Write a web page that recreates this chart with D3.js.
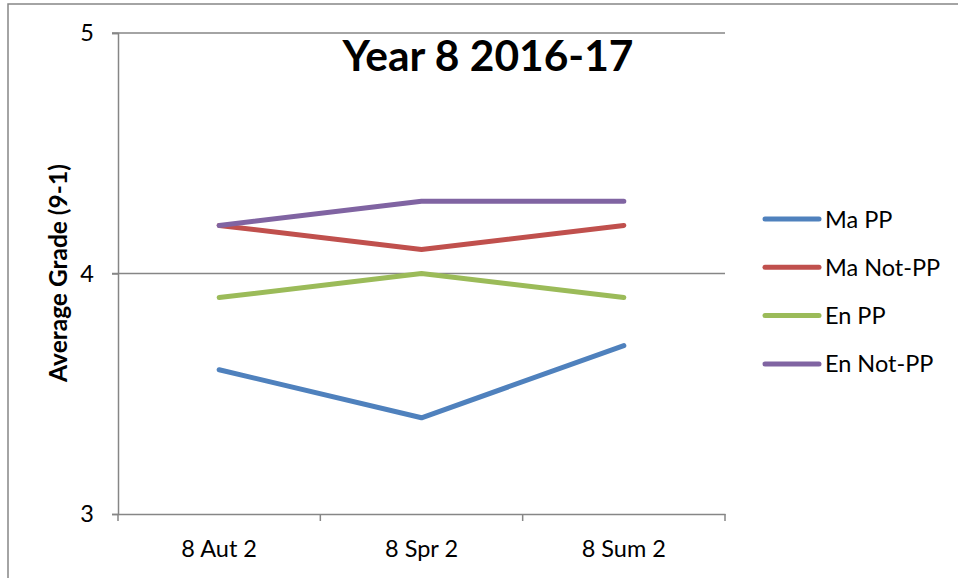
<!DOCTYPE html>
<html><head><meta charset="utf-8">
<script src="https://cdn.jsdelivr.net/npm/d3@7"></script>
<style>body{margin:0;background:#fff}svg{display:block}text{font-family:Lato,"Open Sans",sans-serif}</style>
</head><body><div id="chart"></div>
<script>
const categories = ["8 Aut 2", "8 Spr 2", "8 Sum 2"];
const seriesNames = ["Ma PP", "Ma Not-PP", "En PP", "En Not-PP"];
const maPP = [3.6, 3.4, 3.7];
const maNotPP = [4.2, 4.1, 4.2];
const enPP = [3.9, 4.0, 3.9];
const enNotPP = [4.2, 4.3, 4.3];
const yTicks = [3, 4, 5];
const colors = ["#4F81BD", "#C0504D", "#9BBB59", "#8064A2"];
const seriesValues = [maPP, maNotPP, enPP, enNotPP];

(function () {
const W = 958, H = 578;
const svg = d3.select("#chart").append("svg").attr("width", W).attr("height", H);
svg.append("rect").attr("x", 8).attr("y", 4).attr("width", 1000).attr("height", 1000)
  .attr("fill", "none").attr("stroke", "#868686").attr("stroke-width", 1.5);

const pLeft = 118, pRight = 725, pTop = 33, pBottom = 514;
const x = d3.scaleBand().domain(categories).range([pLeft, pRight]);
const y = d3.scaleLinear().domain([3, 5]).range([pBottom, pTop]);

// gridlines
svg.append("g").selectAll("line").data(yTicks.filter(t => t !== 3)).join("line")
  .attr("x1", pLeft - 6).attr("x2", pRight).attr("y1", d => y(d)).attr("y2", d => y(d))
  .attr("stroke", "#868686").attr("stroke-width", 1.5);

// y axis
const ya = svg.append("g").attr("transform", `translate(${pLeft},0)`)
  .call(d3.axisLeft(y).tickValues(yTicks).tickSize(6).tickPadding(18).tickFormat(d3.format("d")));
ya.select(".domain").attr("stroke", "#868686").attr("stroke-width", 1.5);
ya.selectAll(".tick line").attr("stroke", "#868686").attr("stroke-width", 1.5);
ya.selectAll("text").attr("font-size", 23.5).attr("fill", "#000").style("font-family", "Lato, sans-serif");

// x axis
const xa = svg.append("g").attr("transform", `translate(0,${pBottom})`)
  .call(d3.axisBottom(x).tickSize(0).tickPadding(26));
xa.select(".domain").attr("stroke", "#868686").attr("stroke-width", 1.5);
xa.selectAll("text").attr("font-size", 23.5).attr("fill", "#000").style("font-family", "Lato, sans-serif");
const bounds = [pLeft, ...categories.map(c => x(c) + x.bandwidth())];
svg.append("g").selectAll("line").data(bounds).join("line")
  .attr("x1", d => d).attr("x2", d => d).attr("y1", pBottom).attr("y2", pBottom + 7)
  .attr("stroke", "#868686").attr("stroke-width", 1.5);

// lines
const line = d3.line().x((d, i) => x(categories[i]) + x.bandwidth() / 2).y(d => y(d));
svg.append("g").selectAll("path").data(seriesValues).join("path")
  .attr("d", d => line(d)).attr("fill", "none")
  .attr("stroke", (d, i) => colors[i]).attr("stroke-width", 5)
  .attr("stroke-linecap", "round").attr("stroke-linejoin", "round");

// title
svg.append("text").attr("x", 488).attr("y", 71).attr("text-anchor", "middle")
  .attr("font-size", 42.5).attr("font-weight", "bold").text("Year 8 2016-17");

// y title
svg.append("text").attr("transform", "translate(67,273) rotate(-90)").attr("text-anchor", "middle")
  .attr("font-size", 24.5).attr("font-weight", "bold").text("Average Grade (9-1)");

// legend
const lg = svg.append("g").selectAll("g").data(seriesNames).join("g")
  .attr("transform", (d, i) => `translate(765,${219 + i * 48.3})`);
lg.append("line").attr("x1", 0).attr("x2", 54).attr("stroke", (d, i) => colors[i])
  .attr("stroke-width", 5).attr("stroke-linecap", "round");
lg.append("text").attr("x", 60).attr("y", 8.5).attr("font-size", 23.5).text(d => d);
})();
</script></body></html>
